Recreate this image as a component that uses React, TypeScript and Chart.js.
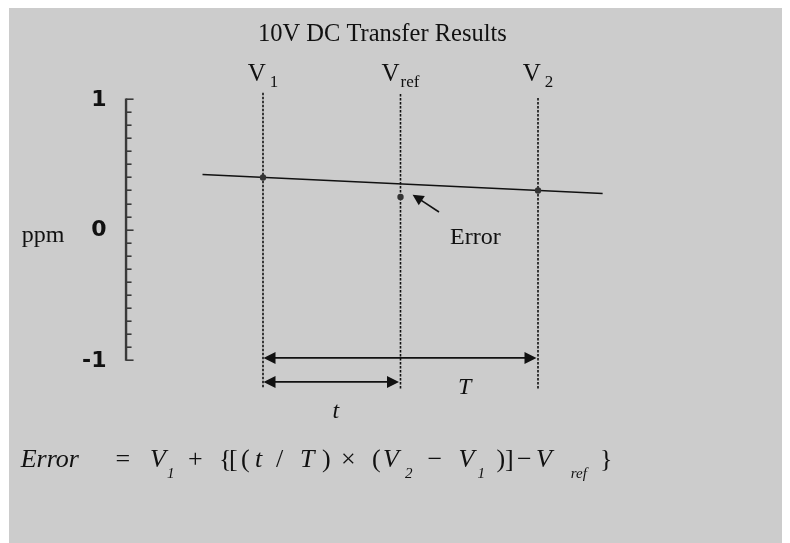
import { useEffect, useRef } from 'react';
import { Chart, registerables } from 'chart.js';

Chart.register(...registerables);

const BG = '#cccccc';
const INK = '#111111';
const SERIF = '"Liberation Serif", "Times New Roman", serif';
const SANS = '"DejaVu Sans", sans-serif';

const TITLE = '10V DC Transfer Results';
const UNIT = 'ppm';

// Drift line through the two transfer readings (time in arbitrary units)
const trendTime = [-2.2, 12.35];
const trendPpm = [0.422, 0.2765];

// Transfer readings V1 and V2
const readingTime = [0, 10];
const readingPpm = [0.4, 0.3];

// Reference reading
const refTime = [5];
const refPpm = [0.25];

// Dotted markers at each reading time
const markerTime = [0, 5, 10];
const markerSub = ['1', 'ref', '2'];
const markerTop = [1.05, 1.04, 1.01];
const markerBottom = [-1.21, -1.23, -1.23];

// Left ppm axis
const axisTime = -4.98;
const ppmTicks = [1, 0.9, 0.8, 0.7, 0.6, 0.5, 0.4, 0.3, 0.2, 0.1, 0, -0.1, -0.2, -0.3, -0.4, -0.5, -0.6, -0.7, -0.8, -0.9, -1];
const ppmLabelValues = [1, 0, -1];
const ppmLabels = ['1', '0', '-1'];

// Interval arrows: T (V1 to V2) and t (V1 to Vref)
const spanNames = ['T', 't'];
const spanStart = [0, 0];
const spanEnd = [10, 5];
const spanPpm = [-0.984, -1.168];
const spanLabelTime = [7.09, 2.53];
const spanLabelPpm = [-1.264, -1.448];

// Error pointer
const errorTip = [5.44, 0.268];
const errorTail = [6.4, 0.135];
const errorLabelAt = [6.8, -0.113];

type Tok = { t: string; x: number; k: 'it' | 'up' | 'sub' };
const FORMULA: Tok[] = [
  { t: 'Error', x: 11.7, k: 'it' },
  { t: '=', x: 106.5, k: 'up' },
  { t: 'V', x: 141, k: 'it' },
  { t: '1', x: 158, k: 'sub' },
  { t: '+', x: 179, k: 'up' },
  { t: '{', x: 210, k: 'up' },
  { t: '[', x: 220, k: 'up' },
  { t: '(', x: 232, k: 'up' },
  { t: 't', x: 246, k: 'it' },
  { t: '/', x: 267, k: 'up' },
  { t: 'T', x: 291, k: 'it' },
  { t: ')', x: 313, k: 'up' },
  { t: '\u00d7', x: 332, k: 'up' },
  { t: '(', x: 363, k: 'up' },
  { t: 'V', x: 374, k: 'it' },
  { t: '2', x: 396, k: 'sub' },
  { t: '\u2212', x: 418.6, k: 'up' },
  { t: 'V', x: 449.6, k: 'it' },
  { t: '1', x: 468.6, k: 'sub' },
  { t: ')', x: 487.6, k: 'up' },
  { t: ']', x: 496, k: 'up' },
  { t: '\u2212', x: 508, k: 'up' },
  { t: 'V', x: 527, k: 'it' },
  { t: 'ref', x: 561.7, k: 'sub' },
  { t: '}', x: 591, k: 'up' },
];
const FORMULA_BASE = 458.5;
const FORMULA_SUB_BASE = 469.5;

function arrowHead(ctx: CanvasRenderingContext2D, tipX: number, tipY: number, fromX: number, fromY: number, len: number, half: number) {
  const a = Math.atan2(tipY - fromY, tipX - fromX);
  const bx = tipX - Math.cos(a) * len;
  const by = tipY - Math.sin(a) * len;
  ctx.beginPath();
  ctx.moveTo(tipX, tipY);
  ctx.lineTo(bx + Math.sin(a) * half, by - Math.cos(a) * half);
  ctx.lineTo(bx - Math.sin(a) * half, by + Math.cos(a) * half);
  ctx.closePath();
  ctx.fill();
}

const diagramPlugin = {
  id: 'transferDiagram',
  beforeDraw(chart: Chart) {
    const { ctx, width, height } = chart;
    ctx.save();
    ctx.fillStyle = BG;
    ctx.fillRect(0, 0, width, height);
    ctx.restore();
  },
  afterDatasetsDraw(chart: Chart) {
    const { ctx } = chart;
    const sx = chart.scales.x;
    const sy = chart.scales.y;
    const px = (v: number) => sx.getPixelForValue(v);
    const py = (v: number) => sy.getPixelForValue(v);
    ctx.save();

    // ppm axis with ticks pointing into the plot
    const ax = px(axisTime);
    ctx.strokeStyle = '#3a3a3a';
    ctx.lineWidth = 2.4;
    ctx.beginPath();
    ctx.moveTo(ax, py(1) - 0.8);
    ctx.lineTo(ax, py(-1) + 0.8);
    ctx.stroke();
    ctx.lineWidth = 1.6;
    ppmTicks.forEach((v) => {
      const major = ppmLabelValues.includes(v);
      const y = Math.round(py(v)) + 0.2;
      ctx.beginPath();
      ctx.moveTo(ax, y);
      ctx.lineTo(ax + (major ? 7.5 : 5.5), y);
      ctx.stroke();
    });

    ctx.fillStyle = INK;
    ctx.font = `bold 22px ${SANS}`;
    ctx.textAlign = 'right';
    ctx.textBaseline = 'middle';
    ppmLabelValues.forEach((v, i) => {
      ctx.fillText(ppmLabels[i], ax - 19.5, py(v) + 1);
    });

    ctx.textBaseline = 'alphabetic';
    ctx.textAlign = 'left';
    ctx.font = `24px ${SERIF}`;
    ctx.fillText(UNIT, 12.7, py(0) + 12.2);

    // title
    ctx.textAlign = 'center';
    ctx.font = `24.5px ${SERIF}`;
    ctx.fillText(TITLE, 373.4, 32.7);

    // V labels above markers
    markerTime.forEach((t, i) => {
      ctx.font = `25px ${SERIF}`;
      const wV = ctx.measureText('V').width;
      ctx.font = `17px ${SERIF}`;
      const gap = markerSub[i] === 'ref' ? 1 : 4;
      const wS = ctx.measureText(markerSub[i]).width;
      const left = px(t) - (wV + gap + wS) / 2;
      ctx.textAlign = 'left';
      ctx.font = `25px ${SERIF}`;
      ctx.fillText('V', left, 72.5);
      ctx.font = `17px ${SERIF}`;
      ctx.fillText(markerSub[i], left + wV + gap, 78.8);
    });

    // interval arrows
    ctx.strokeStyle = INK;
    ctx.fillStyle = INK;
    ctx.lineWidth = 1.6;
    spanNames.forEach((name, i) => {
      const x0 = px(spanStart[i]) + 0.5;
      const x1 = px(spanEnd[i]) - 1.5;
      const y = py(spanPpm[i]);
      ctx.beginPath();
      ctx.moveTo(x0 + 6, y);
      ctx.lineTo(x1 - 6, y);
      ctx.stroke();
      arrowHead(ctx, x0, y, x1, y, 12, 6);
      arrowHead(ctx, x1, y, x0, y, 12, 6);
      ctx.textAlign = 'left';
      ctx.font = `italic 24px ${SERIF}`;
      ctx.fillText(name, px(spanLabelTime[i]), py(spanLabelPpm[i]));
    });

    // error pointer
    const tx = px(errorTip[0]);
    const ty = py(errorTip[1]);
    const fx = px(errorTail[0]);
    const fy = py(errorTail[1]);
    ctx.lineWidth = 1.6;
    ctx.beginPath();
    ctx.moveTo(fx, fy);
    ctx.lineTo(tx + (fx - tx) * 0.3, ty + (fy - ty) * 0.3);
    ctx.stroke();
    arrowHead(ctx, tx, ty, fx, fy, 11, 5.5);
    ctx.font = `24px ${SERIF}`;
    ctx.fillText('Error', px(errorLabelAt[0]), py(errorLabelAt[1]));

    // formula
    FORMULA.forEach((tok) => {
      if (tok.k === 'sub') {
        ctx.font = `italic 15px ${SERIF}`;
        ctx.fillText(tok.t, tok.x, FORMULA_SUB_BASE);
      } else {
        ctx.font = `${tok.k === 'it' ? 'italic ' : ''}26px ${SERIF}`;
        ctx.fillText(tok.t, tok.x, FORMULA_BASE);
      }
    });

    ctx.restore();
  },
};

export default function App() {
  const ref = useRef<HTMLCanvasElement | null>(null);

  useEffect(() => {
    if (!ref.current) return;
    const pts = (xs: number[], ys: number[]) => xs.map((x, i) => ({ x, y: ys[i] }));
    const markers = markerTime.map((t, i) => ({
      type: 'line' as const,
      data: [{ x: t, y: markerTop[i] }, { x: t, y: markerBottom[i] }],
      borderColor: INK,
      borderWidth: 1.6,
      borderDash: [2.5, 1.5],
      pointRadius: 0,
      order: 3,
    }));
    const chart = new Chart(ref.current, {
      type: 'scatter',
      data: {
        datasets: [
          ...markers,
          {
            type: 'line',
            data: pts(trendTime, trendPpm),
            borderColor: INK,
            borderWidth: 1.5,
            pointRadius: 0,
            order: 2,
          },
          {
            data: pts(readingTime, readingPpm),
            backgroundColor: '#333333',
            borderWidth: 0,
            pointRadius: 3.2,
            order: 1,
          },
          {
            data: pts(refTime, refPpm),
            backgroundColor: '#333333',
            borderWidth: 0,
            pointRadius: 3.2,
            order: 1,
          },
        ],
      },
      options: {
        animation: false,
        responsive: false,
        events: [],
        layout: { padding: { left: 34, right: 32, top: 26, bottom: 117.8 } },
        scales: {
          x: { type: 'linear', min: -8, max: 18, display: false },
          y: { type: 'linear', min: -1.5, max: 1.5, display: false },
        },
        plugins: { legend: { display: false }, tooltip: { enabled: false }, title: { display: false } },
      },
      plugins: [diagramPlugin],
    });
    return () => chart.destroy();
  }, []);

  return (
    <div style={{ width: 781, height: 535, marginLeft: 1, background: BG }}>
      <canvas ref={ref} width={781} height={535} style={{ display: 'block' }} />
    </div>
  );
}
